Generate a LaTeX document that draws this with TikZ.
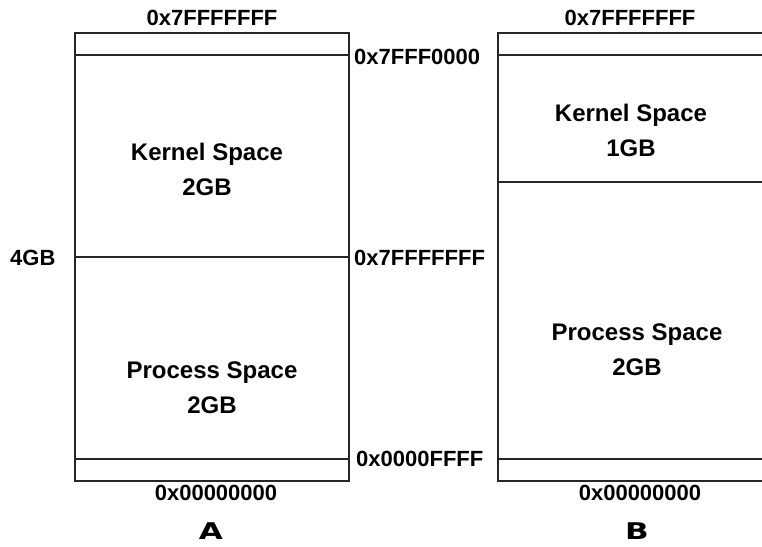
\documentclass[tikz,border=0pt]{standalone}
\usepackage{fontspec}
\setmainfont{Liberation Sans}
\newfontfamily\heavyfont{DejaVu Sans}
\begin{document}
\begin{tikzpicture}[x=1pt,y=-1pt,
  frame/.style={line width=1.3pt,draw=black!85},
  hexlabel/.style={font=\bfseries\fontsize{22}{24}\selectfont,inner sep=0pt},
  hexleft/.style={hexlabel,anchor=west},
  spacelabel/.style={font=\bfseries\fontsize{24}{35}\selectfont,align=center,inner sep=0pt},
  letter/.style={font=\heavyfont\bfseries\fontsize{23}{24}\selectfont,inner sep=0pt}]
\useasboundingbox (0,0) rectangle (762,546);
% box A
\coordinate (a1) at (75,33);
\coordinate (a2) at (349,481);
\draw[frame] (a1) rectangle (a2);
\draw[frame] (75,55) -- (349,55);
\draw[frame] (75,257) -- (349,257);
\draw[frame] (75,459) -- (349,459);
% box B (open to the right)
\draw[frame] (770,33) -- (498,33) -- (498,481) -- (770,481);
\draw[frame] (498,55) -- (770,55);
\draw[frame] (498,182) -- (770,182);
\draw[frame] (498,459) -- (770,459);
% labels A
\node[hexlabel] (atop) at (212,18) {0x7FFFFFFF};
\node[hexleft] (a7fff0) at (354,57) {0x7FFF0000};
\node[hexleft] (amid) at (354,258) {0x7FFFFFFF};
\node[hexleft] (a0ffff) at (356,459) {0x0000FFFF};
\node[hexlabel] (abot) at (216,493) {0x00000000};
\node[hexlabel,anchor=west] (four) at (10,258) {4GB};
\node[spacelabel] (aker) at (207,169) {Kernel Space\\2GB};
\node[spacelabel] (aproc) at (212,388) {Process Space\\2GB};
\node[letter] (la) at (211,531) {\scalebox{1.35}[1]{A}};
% labels B
\node[hexlabel] (btop) at (630,18) {0x7FFFFFFF};
\node[hexlabel] (bbot) at (640,493) {0x00000000};
\node[spacelabel] (bker) at (631,130) {Kernel Space\\1GB};
\node[spacelabel] (bproc) at (637,350) {Process Space\\2GB};
\node[letter] (lb) at (637,531) {\scalebox{1.35}[1]{B}};
\end{tikzpicture}
\end{document}
